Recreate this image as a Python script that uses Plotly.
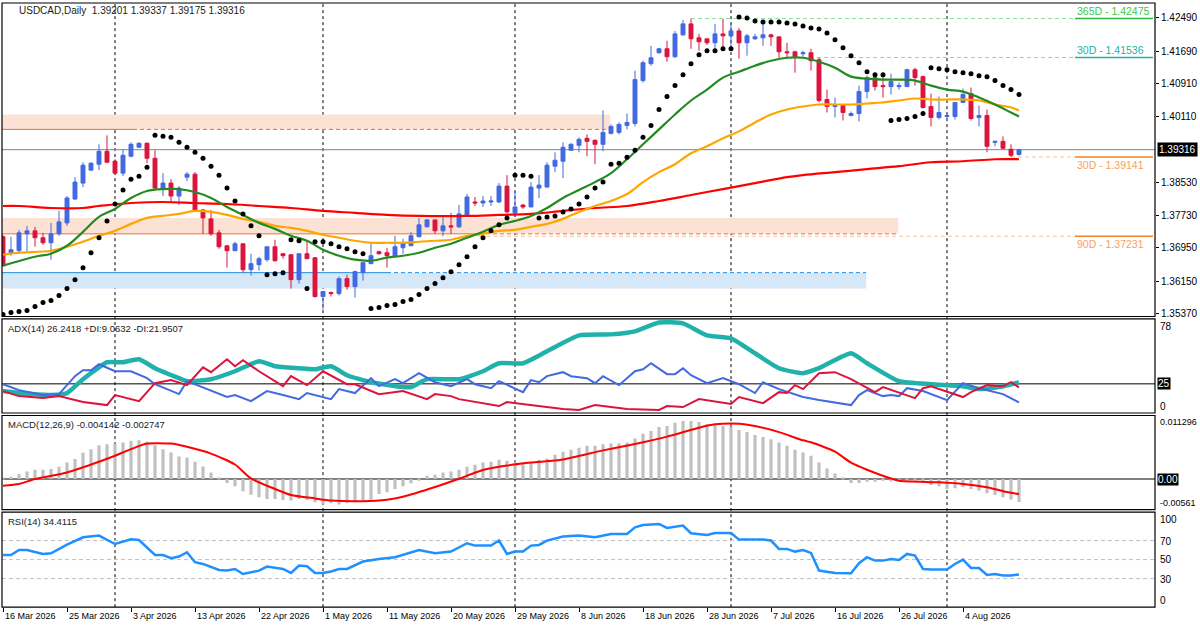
import plotly.graph_objects as go

# USDCAD daily, values (bar index 0 = 16 Mar 2026)
opens = [1.37218, 1.36834, 1.36882, 1.37289, 1.37361, 1.37194, 1.37074, 1.37289, 1.37553, 1.38127,
         1.38511, 1.38823, 1.38966, 1.39278, 1.39038, 1.38751, 1.39158, 1.39374, 1.39470, 1.39110,
         1.38391, 1.38511, 1.38200, 1.38655, 1.38727, 1.37864, 1.37649, 1.37313, 1.37002, 1.36882,
         1.37050, 1.36426, 1.36546, 1.36666, 1.36978, 1.36810, 1.36786, 1.36186, 1.36810, 1.36714,
         1.35778, 1.35874, 1.35850, 1.36210, 1.36018, 1.36354, 1.36570, 1.36858, 1.36834, 1.36762,
         1.36954, 1.37002, 1.37218, 1.37457, 1.37625, 1.37361, 1.37481, 1.37457, 1.37745, 1.38056,
         1.38032, 1.38056, 1.38056, 1.38439, 1.37793, 1.37984, 1.37936, 1.38391, 1.38415, 1.38918,
         1.39038, 1.39302, 1.39422, 1.39589, 1.39541, 1.39446, 1.39709, 1.39733, 1.39901, 1.39949,
         1.40980, 1.41387, 1.41651, 1.41747, 1.41555, 1.42082, 1.42346, 1.42011, 1.41987, 1.41891,
         1.42106, 1.42058, 1.42178, 1.41891, 1.41987, 1.42011, 1.42082, 1.42034, 1.41675, 1.41675,
         1.41627, 1.41651, 1.41483, 1.40525, 1.40357, 1.40381, 1.40140, 1.40188, 1.40716, 1.41052,
         1.40860, 1.40836, 1.40836, 1.40836, 1.41243, 1.41076, 1.40357, 1.40092, 1.40116, 1.40116,
         1.40453, 1.40668, 1.40092, 1.40140, 1.39493, 1.39517, 1.39326, 1.39201]
highs = [1.37266, 1.37218, 1.37385, 1.37481, 1.37457, 1.37313, 1.37553, 1.37841, 1.38200, 1.38655,
         1.39014, 1.39014, 1.39446, 1.39661, 1.39086, 1.39326, 1.39493, 1.39493, 1.39493, 1.39302,
         1.38751, 1.38607, 1.38439, 1.38775, 1.38775, 1.37888, 1.37864, 1.37385, 1.37002, 1.37098,
         1.37050, 1.36810, 1.36738, 1.36978, 1.37146, 1.36810, 1.36786, 1.36810, 1.37122, 1.36714,
         1.35898, 1.35898, 1.36258, 1.36306, 1.36402, 1.36594, 1.37098, 1.36882, 1.36954, 1.37242,
         1.37170, 1.37337, 1.37673, 1.37649, 1.37625, 1.37721, 1.37793, 1.37984, 1.38248, 1.38176,
         1.38200, 1.38200, 1.38511, 1.38703, 1.38296, 1.38008, 1.38535, 1.38703, 1.39014, 1.39254,
         1.39493, 1.39470, 1.39613, 1.39685, 1.39565, 1.40260, 1.39925, 1.39973, 1.40188, 1.41219,
         1.41459, 1.41819, 1.41771, 1.41939, 1.42178, 1.42440, 1.42475, 1.42106, 1.41987, 1.42346,
         1.42466, 1.42346, 1.42250, 1.42106, 1.42106, 1.42418, 1.42106, 1.42034, 1.41891, 1.41699,
         1.41699, 1.41747, 1.41536, 1.40764, 1.40573, 1.40405, 1.40236, 1.40860, 1.41100, 1.41100,
         1.41124, 1.41147, 1.40932, 1.41267, 1.41291, 1.41100, 1.40668, 1.40596, 1.40164, 1.40453,
         1.40788, 1.40812, 1.40381, 1.40284, 1.39517, 1.39637, 1.39446, 1.39337]
lows = [1.36498, 1.36762, 1.36810, 1.36858, 1.36978, 1.37026, 1.36666, 1.37242, 1.37481, 1.38104,
        1.38415, 1.38823, 1.38823, 1.38990, 1.38727, 1.38679, 1.39134, 1.39374, 1.38990, 1.38368,
        1.38200, 1.38056, 1.37984, 1.38559, 1.37841, 1.37289, 1.37242, 1.36930, 1.36474, 1.36882,
        1.36354, 1.36282, 1.36402, 1.36618, 1.36618, 1.36690, 1.35970, 1.36090, 1.36690, 1.35754,
        1.35466, 1.35778, 1.35802, 1.35946, 1.35754, 1.36162, 1.36570, 1.36786, 1.36474, 1.36738,
        1.36810, 1.37002, 1.37218, 1.37457, 1.37289, 1.37231, 1.37289, 1.37433, 1.37745, 1.37960,
        1.37936, 1.37960, 1.38032, 1.37793, 1.37697, 1.37888, 1.37936, 1.38152, 1.38415, 1.38775,
        1.38631, 1.39302, 1.39254, 1.39158, 1.38966, 1.39278, 1.39685, 1.39685, 1.39805, 1.39877,
        1.40932, 1.41339, 1.41627, 1.41435, 1.41531, 1.42058, 1.41747, 1.41699, 1.41843, 1.41675,
        1.41723, 1.41723, 1.41507, 1.41579, 1.41963, 1.41819, 1.41819, 1.41531, 1.41531, 1.41171,
        1.41555, 1.41219, 1.40453, 1.40212, 1.40092, 1.40020, 1.40116, 1.39997, 1.40549, 1.40740,
        1.40573, 1.40645, 1.40764, 1.40836, 1.40860, 1.40308, 1.39877, 1.40044, 1.40068, 1.40044,
        1.40453, 1.40020, 1.39877, 1.39254, 1.39398, 1.39326, 1.39141, 1.39175]
closes = [1.36522, 1.36906, 1.37313, 1.37361, 1.37194, 1.37074, 1.37289, 1.37577, 1.38152, 1.38535,
          1.38942, 1.38990, 1.39278, 1.39014, 1.38751, 1.39182, 1.39446, 1.39470, 1.39110, 1.38391,
          1.38511, 1.38200, 1.38391, 1.38727, 1.37841, 1.37673, 1.37289, 1.36978, 1.36882, 1.37050,
          1.36426, 1.36570, 1.36690, 1.36978, 1.36642, 1.36762, 1.36186, 1.36810, 1.36690, 1.35778,
          1.35898, 1.35850, 1.36210, 1.36018, 1.36378, 1.36594, 1.36762, 1.36810, 1.36762, 1.36978,
          1.37074, 1.37242, 1.37505, 1.37625, 1.37361, 1.37481, 1.37457, 1.37769, 1.38176, 1.38032,
          1.38080, 1.38080, 1.38439, 1.37817, 1.37936, 1.37936, 1.38415, 1.38463, 1.38942, 1.39062,
          1.39374, 1.39446, 1.39565, 1.39517, 1.39446, 1.39733, 1.39877, 1.39925, 1.39973, 1.41004,
          1.41411, 1.41531, 1.41747, 1.41555, 1.42106, 1.42346, 1.41987, 1.41915, 1.41891, 1.42106,
          1.42058, 1.42178, 1.41891, 1.42058, 1.42034, 1.42082, 1.42034, 1.41675, 1.41651, 1.41555,
          1.41651, 1.41459, 1.40501, 1.40357, 1.40381, 1.40212, 1.40188, 1.40716, 1.41052, 1.40836,
          1.40836, 1.40956, 1.40860, 1.41243, 1.41052, 1.40333, 1.40092, 1.40212, 1.40140, 1.40453,
          1.40645, 1.40068, 1.40140, 1.39398, 1.39517, 1.39350, 1.39182, 1.39316]

# parabolic SAR, one dot per bar
sar = [1.35346, 1.35394, 1.35418, 1.35442, 1.35538, 1.35634, 1.35682, 1.35802, 1.35970, 1.36186,
       1.36474, 1.36834, 1.37194, 1.37601, 1.38008, 1.38344, 1.38607, 1.38679, 1.38895, 1.39661,
       1.39637, 1.39613, 1.39493, 1.39374, 1.39254, 1.39110, 1.38918, 1.38703, 1.38391, 1.38080,
       1.37769, 1.37481, 1.37242, 1.36306, 1.36330, 1.36354, 1.37146, 1.37122, 1.35970, 1.37098,
       1.37098, 1.37050, 1.36978, 1.36930, 1.36858, 1.36810, 1.35490, 1.35514, 1.35562, 1.35586,
       1.35658, 1.35706, 1.35826, 1.35970, 1.36090, 1.36234, 1.36378, 1.36546, 1.36738, 1.36978,
       1.37194, 1.37361, 1.37505, 1.37673, 1.38703, 1.38703, 1.38679, 1.37673, 1.37697, 1.37721,
       1.37817, 1.37888, 1.38008, 1.38176, 1.38391, 1.38535, 1.38966, 1.38990, 1.39134, 1.39302,
       1.39613, 1.39901, 1.40284, 1.40596, 1.40860, 1.41124, 1.41387, 1.41603, 1.41699, 1.41699,
       1.41747, 1.41747, 1.42514, 1.42490, 1.42418, 1.42394, 1.42394, 1.42394, 1.42370, 1.42346,
       1.42298, 1.42250, 1.42226, 1.42130, 1.41963, 1.41771, 1.41579, 1.41411, 1.41195, 1.41124,
       1.41124, 1.40020, 1.40044, 1.40068, 1.40116, 1.40188, 1.41291, 1.41267, 1.41243, 1.41195,
       1.41171, 1.41147, 1.41100, 1.41076, 1.40980, 1.40860, 1.40764, 1.40645]

# moving averages, sampled along the bars
ma_green_idx = [0, 4, 6, 8, 10, 12, 14, 16, 18, 20, 22, 24, 26, 28, 30, 32, 34, 36, 38, 40, 42, 44, 46, 48,
                50, 52, 54, 56, 58, 60, 62, 64, 66, 68, 70, 72, 74, 76, 78, 80, 82, 84, 86, 88, 90, 92,
                94, 96, 98, 100, 102, 104, 106, 108, 110, 112, 114, 116, 118, 120, 122, 124, 126, 127]
ma_green = [1.36522, 1.36738, 1.36810, 1.37002, 1.37337, 1.37697, 1.37888, 1.38152, 1.38320, 1.38368,
            1.38368, 1.38296, 1.38152, 1.37936, 1.37745, 1.37553, 1.37409, 1.37242, 1.37122, 1.36906,
            1.36762, 1.36666, 1.36642, 1.36714, 1.36762, 1.36834, 1.36954, 1.37050, 1.37194, 1.37337,
            1.37505, 1.37601, 1.37721, 1.37912, 1.38152, 1.38344, 1.38535, 1.38751, 1.39086, 1.39446,
            1.39805, 1.40164, 1.40501, 1.40764, 1.41052, 1.41195, 1.41339, 1.41459, 1.41531, 1.41531,
            1.41435, 1.41291, 1.41076, 1.41028, 1.41004, 1.41004, 1.40980, 1.40860, 1.40764, 1.40716,
            1.40573, 1.40405, 1.40212, 1.40116]
ma_orange_idx = [0, 2, 6, 8, 10, 12, 14, 16, 18, 20, 22, 24, 26, 28, 30, 32, 34, 36, 38, 40, 42, 44, 46, 48,
                 50, 52, 54, 56, 58, 60, 62, 64, 66, 68, 70, 72, 74, 76, 78, 80, 82, 84, 86, 88, 90, 92,
                 94, 96, 98, 100, 102, 104, 106, 108, 110, 112, 114, 116, 118, 120, 122, 124, 126, 127]
ma_orange = [1.36786, 1.36834, 1.36882, 1.36978, 1.37098, 1.37242, 1.37361, 1.37529, 1.37673, 1.37721,
             1.37769, 1.37841, 1.37817, 1.37745, 1.37649, 1.37577, 1.37481, 1.37433, 1.37361, 1.37266,
             1.37194, 1.37122, 1.37074, 1.37074, 1.37074, 1.37098, 1.37122, 1.37146, 1.37242, 1.37289,
             1.37361, 1.37385, 1.37457, 1.37529, 1.37649, 1.37817, 1.37960, 1.38080, 1.38248, 1.38535,
             1.38775, 1.38966, 1.39230, 1.39398, 1.39589, 1.39757, 1.39973, 1.40164, 1.40284, 1.40357,
             1.40405, 1.40405, 1.40405, 1.40429, 1.40453, 1.40501, 1.40549, 1.40525, 1.40525, 1.40525,
             1.40501, 1.40405, 1.40333, 1.40260]
ma_red_idx = [0, 2, 6, 10, 12, 16, 20, 24, 28, 32, 36, 40, 44, 48, 52, 58, 62, 66, 70, 74, 78, 82, 86,
              90, 94, 98, 100, 104, 108, 112, 116, 120, 124, 127]
ma_red = [1.37960, 1.37960, 1.37912, 1.37912, 1.37960, 1.38032, 1.38056, 1.38032, 1.38008, 1.37960,
          1.37912, 1.37841, 1.37793, 1.37745, 1.37721, 1.37721, 1.37745, 1.37769, 1.37841, 1.37912,
          1.37960, 1.38080, 1.38224, 1.38368, 1.38511, 1.38655, 1.38703, 1.38775, 1.38847, 1.38918,
          1.39014, 1.39038, 1.39086, 1.39086]

# ADX(14)
adx_idx = [0, 2, 6, 8, 10, 12, 13, 15, 17, 19, 22, 23, 26, 29, 32, 34, 37, 39, 41, 43, 46, 50, 51, 53,
           57, 60, 62, 65, 68, 72, 76, 79, 82, 85, 88, 91, 94, 97, 100, 102, 106, 108, 112, 116, 120,
           122, 125, 127]
adx = [18.8, 17.1, 15.4, 17.1, 29.0, 39.2, 43.5, 43.5, 46.1, 38.4, 29.9, 27.3, 29.0, 35.8, 44.4, 40.1,
       38.4, 37.5, 40.1, 32.4, 26.4, 22.2, 22.2, 29.0, 29.0, 35.8, 42.7, 42.7, 52.9, 66.5, 67.4, 70.0,
       77.6, 76.8, 66.5, 64.0, 51.2, 38.4, 34.1, 38.4, 51.2, 42.7, 27.3, 24.7, 23.0, 20.5, 23.0, 26.24]
pdi_idx = [0, 2, 5, 7, 9, 10, 11, 12, 14, 16, 18, 19, 22, 23, 28, 29, 31, 33, 35, 37, 38, 41, 42, 44,
           46, 47, 49, 50, 52, 54, 56, 58, 59, 61, 62, 65, 66, 67, 68, 70, 71, 73, 74, 75, 77, 79, 80,
           81, 83, 84, 85, 86, 88, 90, 92, 94, 95, 97, 100, 102, 106, 107, 108, 110, 111, 112, 113,
           115, 118, 120, 122, 125, 127]
pdi = [24.7, 19.6, 15.4, 16.2, 31.6, 36.7, 36.7, 41.8, 35.8, 35.8, 29.9, 24.7, 16.2, 27.3, 13.7, 15.4,
       10.2, 18.8, 15.4, 11.9, 17.1, 11.9, 20.5, 17.1, 29.9, 23.0, 29.0, 25.6, 34.1, 26.4, 23.0, 29.0,
       24.7, 21.3, 27.3, 17.9, 28.2, 26.4, 31.6, 35.0, 31.6, 29.9, 25.6, 31.6, 23.9, 35.8, 37.5, 42.7,
       33.3, 33.3, 38.4, 32.4, 25.6, 29.9, 24.7, 17.1, 26.4, 20.5, 13.7, 11.1, 6.8, 15.4, 19.6, 14.5,
       15.4, 14.5, 21.3, 18.8, 11.1, 25.6, 21.3, 16.2, 9.06]
mdi_idx = [0, 2, 5, 7, 10, 13, 14, 17, 19, 21, 23, 25, 26, 28, 29, 30, 32, 35, 36, 38, 40, 43, 44, 47,
           50, 53, 54, 56, 57, 62, 63, 66, 70, 72, 74, 78, 82, 83, 85, 87, 90, 91, 92, 95, 97, 98, 99,
           100, 102, 104, 106, 109, 110, 114, 115, 116, 120, 121, 123, 125, 126, 127]
mdi = [18.8, 14.5, 12.8, 14.5, 9.4, 6.8, 15.4, 10.2, 25.6, 28.2, 23.9, 39.2, 35.0, 46.1, 40.1, 45.2,
       35.8, 23.0, 31.6, 23.9, 35.8, 24.7, 24.7, 16.2, 18.8, 11.9, 16.2, 14.5, 11.9, 6.0, 9.4, 6.8,
       3.4, 2.6, 6.8, 3.4, 2.6, 6.0, 5.1, 11.9, 8.5, 7.7, 13.7, 8.5, 17.9, 17.1, 23.9, 20.5, 34.1,
       35.0, 29.0, 17.9, 22.2, 12.8, 21.3, 23.0, 13.7, 17.9, 23.9, 23.0, 26.4, 21.95]

# MACD(12,26,9): histogram per bar, signal sampled
macd_hist = [0.00020, 0.00041, 0.00090, 0.00137, 0.00167, 0.00167, 0.00180, 0.00222, 0.00299, 0.00360,
             0.00474, 0.00540, 0.00612, 0.00630, 0.00641, 0.00659, 0.00690, 0.00702, 0.00672, 0.00612,
             0.00540, 0.00479, 0.00407, 0.00389, 0.00312, 0.00227, 0.00119, 0.00018, -0.00072, -0.00133,
             -0.00223, -0.00283, -0.00331, -0.00360, -0.00360, -0.00378, -0.00391, -0.00360, -0.00378, -0.00421,
             -0.00463, -0.00439, -0.00463, -0.00439, -0.00421, -0.00391, -0.00373, -0.00270, -0.00241, -0.00180,
             -0.00133, -0.00079, -0.00031, 0.00059, 0.00077, 0.00119, 0.00137, 0.00167, 0.00222, 0.00258,
             0.00299, 0.00312, 0.00348, 0.00330, 0.00312, 0.00281, 0.00299, 0.00348, 0.00371, 0.00438,
             0.00492, 0.00528, 0.00564, 0.00600, 0.00600, 0.00630, 0.00641, 0.00641, 0.00659, 0.00731,
             0.00821, 0.00870, 0.00942, 0.00960, 0.01019, 0.01050, 0.01050, 0.01032, 0.00990, 0.00990,
             0.00960, 0.00947, 0.00888, 0.00852, 0.00798, 0.00762, 0.00720, 0.00659, 0.00600, 0.00528,
             0.00479, 0.00420, 0.00299, 0.00191, 0.00101, 0.00010, -0.00072, -0.00072, -0.00049, -0.00049,
             -0.00031, -0.00043, -0.00031, -0.00025, -0.00025, -0.00031, -0.00108, -0.00133, -0.00180, -0.00169,
             -0.00151, -0.00180, -0.00211, -0.00259, -0.00288, -0.00331, -0.00373, -0.004142]
macd_sig_idx = [0, 2, 4, 8, 12, 14, 16, 18, 21, 23, 26, 29, 31, 34, 36, 39, 41, 45, 48, 50, 54, 57, 60,
                63, 66, 70, 75, 79, 83, 87, 89, 92, 94, 97, 100, 101, 104, 106, 108, 111, 112, 117, 120,
                123, 125, 127]
macd_sig = [-0.00121, -0.00090, 0.00000, 0.00119, 0.00312, 0.00420, 0.00540, 0.00641, 0.00641, 0.00582,
            0.00460, 0.00262, 0.00010, -0.00180, -0.00290, -0.00352, -0.00390, -0.00403, -0.00375, -0.00320,
            -0.00145, 0.00005, 0.00162, 0.00243, 0.00297, 0.00355, 0.00518, 0.00633, 0.00767, 0.00929,
            0.00990, 0.01001, 0.00958, 0.00848, 0.00700, 0.00665, 0.00495, 0.00295, 0.00167, 0.00008,
            -0.00031, -0.00061, -0.00090, -0.00151, -0.00220, -0.002747]

# RSI(14)
rsi_idx = [0, 1, 2, 3, 5, 6, 8, 10, 12, 14, 16, 17, 19, 20, 21, 22, 23, 24, 25, 27, 28, 29, 30, 32, 33,
           35, 36, 37, 38, 39, 40, 41, 42, 43, 45, 47, 49, 50, 52, 54, 56, 58, 59, 61, 62, 63, 64, 65,
           66, 67, 68, 70, 72, 74, 76, 78, 79, 80, 82, 83, 85, 86, 88, 89, 91, 92, 95, 96, 97, 98, 99,
           100, 101, 102, 103, 104, 106, 107, 108, 109, 110, 111, 112, 113, 114, 115, 116, 118, 119,
           120, 121, 122, 123, 124, 125, 126, 127]
rsi = [54.8, 54.8, 60.1, 60.1, 55.9, 56.6, 65.8, 73.5, 75.3, 66.4, 71.4, 70.6, 54.8, 54.8, 51.4, 53.2,
       57.7, 47.2, 45.4, 39.1, 38.4, 40.1, 34.8, 38.4, 42.6, 40.1, 35.9, 43.7, 42.9, 35.9, 35.9, 37.4,
       40.1, 40.1, 47.9, 50.6, 52.4, 54.8, 60.1, 56.6, 58.4, 67.2, 64.7, 64.7, 70.0, 55.9, 58.4, 58.4,
       64.7, 65.4, 70.0, 74.2, 75.3, 73.5, 77.0, 77.0, 84.0, 86.4, 87.5, 83.3, 85.8, 77.7, 75.9, 78.0,
       78.0, 71.0, 71.0, 70.0, 61.2, 61.2, 58.4, 60.1, 57.0, 38.4, 37.4, 35.9, 35.6, 46.1, 52.4, 48.9,
       48.9, 50.6, 49.6, 55.9, 54.2, 40.1, 39.5, 39.5, 45.4, 50.0, 41.2, 41.2, 33.8, 34.8, 33.2, 33.2,
       34.41]

# levels and zones
last_price = 1.39316
high_365d = 1.42475
high_30d = 1.41536
low_30d = 1.39141
low_90d = 1.37231
zone_upper = (1.39805, 1.40164)
zone_mid = (1.37289, 1.37673)
zone_low = (1.35970, 1.36354)

price_ticks = [1.42490, 1.41690, 1.40910, 1.40110, 1.38530, 1.37730, 1.36950, 1.36150, 1.35370]
date_labels = ["16 Mar 2026", "25 Mar 2026", "3 Apr 2026", "13 Apr 2026", "22 Apr 2026", "1 May 2026",
               "11 May 2026", "20 May 2026", "29 May 2026", "8 Jun 2026", "18 Jun 2026", "28 Jun 2026",
               "7 Jul 2026", "16 Jul 2026", "26 Jul 2026", "4 Aug 2026"]
date_pos = [8 * k for k in range(len(date_labels))]
month_starts = [14, 40, 64, 91, 118]

bars = list(range(len(closes)))
W, H = 1200, 630
FONT = "Liberation Sans"


def py(px):
    # pixel row -> paper y
    return 1 - px / H


X0, X1 = -0.125, 144

fig = go.Figure()

fig.add_trace(go.Candlestick(
    x=bars, open=opens, high=highs, low=lows, close=closes,
    increasing=dict(line=dict(color="#4169E1", width=1), fillcolor="#4169E1"),
    decreasing=dict(line=dict(color="#DC143C", width=1), fillcolor="#DC143C"),
    whiskerwidth=0, xaxis="x", yaxis="y"))
fig.add_trace(go.Scatter(x=ma_red_idx, y=ma_red, mode="lines", line=dict(color="#FF0000", width=2.2, shape="spline"), yaxis="y"))
fig.add_trace(go.Scatter(x=ma_orange_idx, y=ma_orange, mode="lines", line=dict(color="#FFA500", width=2.2, shape="spline"), yaxis="y"))
fig.add_trace(go.Scatter(x=ma_green_idx, y=ma_green, mode="lines", line=dict(color="#228B22", width=2.2, shape="spline"), yaxis="y"))
fig.add_trace(go.Scatter(x=bars, y=sar, mode="markers", marker=dict(color="black", size=5), yaxis="y"))

# ADX panel
fig.add_trace(go.Scatter(x=adx_idx, y=adx, mode="lines", line=dict(color="#20B2AA", width=4.5, shape="spline", smoothing=0.5), yaxis="y2"))
fig.add_trace(go.Scatter(x=pdi_idx, y=pdi, mode="lines", line=dict(color="#4169E1", width=2), yaxis="y2"))
fig.add_trace(go.Scatter(x=mdi_idx, y=mdi, mode="lines", line=dict(color="#DC143C", width=2), yaxis="y2"))

# MACD panel
fig.add_trace(go.Bar(x=bars, y=macd_hist, width=0.4, marker=dict(color="#C0C0C0", line=dict(width=0)), yaxis="y3"))
fig.add_trace(go.Scatter(x=macd_sig_idx, y=macd_sig, mode="lines", line=dict(color="#FF0000", width=2, shape="spline", smoothing=0.6), yaxis="y3"))

# RSI panel
fig.add_trace(go.Scatter(x=rsi_idx, y=rsi, mode="lines", line=dict(color="#1E90FF", width=2.5), yaxis="y4"))

shapes = []


def hline(y, x0, x1, color, width=1, dash="solid", yref="y"):
    shapes.append(dict(type="line", xref="x", yref=yref, x0=x0, x1=x1, y0=y, y1=y,
                       line=dict(color=color, width=width, dash=dash), layer="below"))


def zone(lo, hi, x1, color):
    shapes.append(dict(type="rect", xref="x", yref="y", x0=X0, x1=x1, y0=lo, y1=hi,
                       fillcolor=color, line=dict(width=0), layer="below"))


zone(*zone_upper, 75.9, "rgb(252,226,212)")
zone(*zone_mid, 111.9, "rgb(252,226,212)")
zone(*zone_low, 107.9, "rgb(214,231,248)")
hline(zone_upper[0], X0, 16.25, "#F07030")
hline(zone_upper[0], 16.25, 75.5, "#F07030", dash="4px,3px")
hline(zone_mid[0], X0, 59.5, "#F07030")
hline(zone_mid[0], 59.5, 111.9, "#F07030", dash="4px,3px")
hline(zone_low[1], X0, 48.0, "#1E8FE6")
hline(zone_low[1], 48.0, 107.9, "#1E8FE6", dash="4px,3px")

hline(high_365d, 86, 134, "#8EDDA0", dash="4px,3px")
hline(high_365d, 134, 143.75, "#2DB83D", width=1.5)
hline(high_30d, 100, 134, "#86D4CC", dash="4px,3px")
hline(high_30d, 134, 143.75, "#20B2AA", width=1.5)
hline(low_30d, 126, 134, "#F8C29A", dash="4px,3px")
hline(low_30d, 134, 143.75, "#F5842B", width=1.5)
hline(low_90d, 59.5, 134, "#F8C29A", dash="4px,3px")
hline(low_90d, 134, 143.75, "#F5842B", width=1.5)
hline(last_price, X0, X1, "#778899")

hline(25, X0, X1, "black", yref="y2")
hline(0, X0, X1, "black", yref="y3")
for lvl in (70, 50, 30):
    hline(lvl, X0, X1, "#C0C0C0", dash="4px,3px", yref="y4")

for m in month_starts:
    shapes.append(dict(type="line", xref="x", yref="paper", x0=m, x1=m, y0=py(610), y1=py(3),
                       line=dict(color="black", width=1, dash="3px,3px"), layer="below"))

# panel frames
for top, bot in [(3, 318), (320.5, 415), (417.5, 512), (514.5, 610)]:
    shapes.append(dict(type="rect", xref="paper", yref="paper", x0=2 / W, x1=1155 / W,
                       y0=py(bot), y1=py(top), line=dict(color="black", width=1.2), layer="above"))

ann = []


def text(s, x, y, xref="paper", yref="paper", color="#1a1a1a", size=9.5, xanchor="left", yanchor="middle", **kw):
    ann.append(dict(text=s, x=x, y=y, xref=xref, yref=yref, showarrow=False, xanchor=xanchor,
                    yanchor=yanchor, font=dict(family=FONT, size=size, color=color), **kw))


text("USDCAD,Daily&nbsp; 1.39201 1.39337 1.39175 1.39316", 17 / W, py(11), size=10)
text("ADX(14) 26.2418 +DI:9.0632 -DI:21.9507", 6 / W, py(330))
text("MACD(12,26,9) -0.004142 -0.002747", 6 / W, py(427))
text("RSI(14) 34.4115", 6 / W, py(524))

text("365D - 1.42475", 134, high_365d, xref="x", yref="y", color="#3CC84A", size=10.5, yanchor="bottom")
text("30D - 1.41536", 134, high_30d, xref="x", yref="y", color="#20B2AA", size=10.5, yanchor="bottom")
text("30D - 1.39141", 134, low_30d, xref="x", yref="y", color="#F7A060", size=10.5, yanchor="top")
text("90D - 1.37231", 134, low_90d, xref="x", yref="y", color="#F7A060", size=10.5, yanchor="top")

text("1.39316", 1157 / W, last_price, yref="y", color="white", size=10, bgcolor="black", borderpad=1)
text("78", 1158 / W, py(328), size=10, color="black")
text("25", 1157 / W, 25, yref="y2", size=10, color="white", bgcolor="black", borderpad=0)
text("0", 1158 / W, py(408), size=10, color="black")
text("0.011296", 1158 / W, py(424), size=9, color="black")
text("0.00", 1157 / W, 0, yref="y3", size=10, color="white", bgcolor="black", borderpad=0)
text("-0.00561", 1158 / W, py(505), size=9, color="black")
for lab, ypx in [("100", 522), ("70", 544), ("50", 562), ("30", 582), ("0", 603)]:
    text(lab, 1158 / W, py(ypx), size=10, color="black")

for lab, pos in zip(date_labels, date_pos):
    text(lab, pos, py(619), xref="x", color="black", size=9)

hidden = dict(showgrid=False, zeroline=False, showticklabels=False, anchor="x", fixedrange=True)
fig.update_layout(
    width=W, height=H, margin=dict(l=0, r=0, t=0, b=0),
    paper_bgcolor="white", plot_bgcolor="white", showlegend=False,
    xaxis=dict(domain=[2 / W, 1155 / W], range=[X0, X1], anchor="y4", showgrid=False, zeroline=False,
               showticklabels=False, ticks="outside", ticklen=4, tickcolor="black", tickvals=date_pos,
               rangeslider=dict(visible=False), fixedrange=True),
    yaxis=dict(domain=[py(318), py(3)], range=[1.35298, 1.42850], side="right", anchor="x",
               showgrid=False, zeroline=False, tickvals=price_ticks, ticktext=[f"{v:.5f}" for v in price_ticks],
               ticks="outside", ticklen=3, tickcolor="black", tickfont=dict(family=FONT, size=10, color="black"),
               fixedrange=True),
    yaxis2=dict(domain=[py(415), py(320.5)], range=[0, 80.6], **hidden),
    yaxis3=dict(domain=[py(512), py(417.5)], range=[-0.00553, 0.01149], **hidden),
    yaxis4=dict(domain=[py(610), py(514.5)], range=[0, 100], **hidden),
    shapes=shapes, annotations=ann,
)

# drop the browser's default page margin so the chart sits at (0, 0); no modebar
fig.write_html("out.html", config={"displayModeBar": False},
               post_script="document.body.style.margin='0';document.body.style.overflow='hidden';")
